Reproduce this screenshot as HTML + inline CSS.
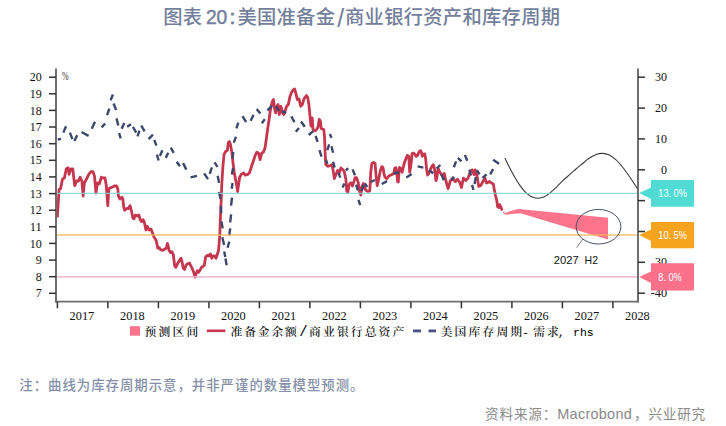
<!DOCTYPE html><html><head><meta charset="utf-8"><title>图表 20</title><style>
html,body{margin:0;padding:0;background:#fff;}
body{width:726px;height:426px;overflow:hidden;position:relative;}
svg{position:absolute;left:0;top:0;display:block;}
.t{font-family:"Liberation Sans","Noto Sans CJK SC",sans-serif;}
</style></head><body>
<svg width="726" height="426" viewBox="0 0 726 426">
<text y="23.7" font-family='"Liberation Sans", "Noto Sans CJK SC", sans-serif' font-size="19.3" font-weight="500" fill="#737f9b" stroke="#737f9b" stroke-width="0"><tspan x="163.20 182.77">图表</tspan><tspan x="205.9" font-size="21" textLength="21.4" lengthAdjust="spacingAndGlyphs" stroke-width="0.5">20</tspan><tspan x="229.4" font-size="21" stroke-width="0.7">:</tspan><tspan x="237.40 256.97 276.54 296.11 315.68">美国准备金</tspan><tspan x="337.2" y="27.2" font-size="25" font-weight="400">/</tspan><tspan x="345.00 364.57 384.14 403.71 423.28 442.85 462.42 481.99 501.56 521.13 540.70" y="23.7">商业银行资产和库存周期</tspan></text>
<polygon points="502.6,211.2 504.5,212.6 506.3,212.8 509.0,211.6 511.9,210.7 515.0,209.7 518.7,209.0 608.0,217.7 608.0,239.4 520.4,213.3 511.9,214.1 506.3,214.8 503.5,213.6" fill="#fc738c"/>
<path d="M504.9,158.0 C505.5,159.2 507.0,162.4 508.5,165.4 C510.0,168.4 512.2,172.7 514.1,176.0 C516.0,179.3 517.8,182.4 519.7,185.1 C521.6,187.8 523.5,190.3 525.4,192.2 C527.3,194.1 528.9,195.4 531.0,196.4 C533.1,197.4 535.9,198.1 538.0,198.2 C540.1,198.3 541.8,197.9 543.7,197.1 C545.6,196.3 547.2,195.2 549.3,193.6 C551.4,192.0 553.9,189.5 556.3,187.3 C558.6,185.1 561.0,182.4 563.4,180.2 C565.8,178.0 568.3,175.8 570.4,173.9 C572.5,172.0 574.1,170.7 576.0,169.0 C577.9,167.3 579.8,165.8 582.0,164.0 C584.2,162.2 586.8,159.9 589.1,158.3 C591.5,156.7 593.9,155.3 596.1,154.5 C598.3,153.7 600.4,153.3 602.5,153.4 C604.6,153.5 606.6,153.8 608.8,154.8 C611.0,155.9 613.4,157.6 615.8,159.7 C618.1,161.8 620.5,164.6 622.9,167.5 C625.2,170.4 627.8,174.2 629.9,177.3 C632.0,180.4 634.3,183.8 635.6,185.8 C636.9,187.9 637.5,189.0 637.9,189.6" fill="none" stroke="#3a3a3a" stroke-width="1.1"/>
<polyline points="57.3,217.5 59.1,189.4 60.6,188.5 62.5,179.0 64.4,178.0 66.3,168.8 68.1,167.8 69.0,174.4 71.0,168.8 72.8,168.8 73.8,178.0 74.7,185.6 76.6,181.0 78.5,181.0 80.1,177.2 81.9,181.0 83.1,196.0 84.4,182.8 87.0,178.0 88.8,174.4 91.0,171.6 93.0,171.6 94.5,176.3 96.0,193.0 97.5,182.8 99.4,183.8 101.3,177.2 103.0,178.0 105.0,178.0 106.3,185.6 107.8,205.6 108.8,188.8 110.6,187.8 112.5,186.9 114.4,186.0 116.6,186.0 117.8,188.8 118.5,196.3 120.0,199.0 121.9,197.2 122.8,199.0 123.8,207.5 124.7,210.3 126.6,208.5 128.5,208.5 130.0,205.6 131.3,210.3 132.8,217.8 134.0,218.8 135.4,215.0 137.3,216.0 138.8,215.0 140.3,219.7 141.6,221.6 143.1,219.7 144.4,222.5 145.9,230.0 147.2,226.3 149.1,230.0 151.0,229.1 152.8,233.8 154.2,237.5 155.7,239.4 156.4,241.3 157.8,248.3 159.2,247.6 160.6,249.7 162.7,250.4 164.9,249.0 166.3,248.3 167.4,243.4 168.4,246.9 169.1,250.4 170.5,252.5 171.9,251.8 173.3,254.6 174.7,265.9 175.8,267.3 177.5,263.8 179.6,260.3 181.0,258.2 182.0,261.7 183.2,268.0 184.6,269.4 186.0,265.2 187.4,263.8 189.5,263.1 190.9,265.9 192.3,268.7 193.7,272.3 195.1,277.2 196.1,273.7 197.3,270.8 198.7,272.3 200.1,270.1 201.5,267.3 202.9,266.6 204.3,265.2 205.7,256.8 207.1,255.4 208.5,256.0 210.4,254.0 211.8,258.2 213.2,256.0 214.9,256.0 216.0,258.2 217.4,254.0 218.4,251.1 219.1,244.1 219.8,234.2 220.5,215.0 221.2,200.0 221.8,184.2 222.8,167.8 224.0,154.6 225.6,151.4 227.3,150.5 228.4,142.3 229.4,141.5 230.5,144.8 231.7,151.4 233.0,162.9 234.3,172.7 235.5,179.3 236.8,185.9 237.6,191.6 238.4,185.9 239.6,177.7 241.2,174.4 243.7,173.0 245.3,175.2 247.8,174.4 249.4,173.0 251.1,167.8 253.0,162.0 255.2,155.5 256.8,152.2 258.5,153.0 260.1,159.6 261.8,153.0 263.4,152.2 265.0,148.0 266.2,139.9 267.5,130.0 269.1,119.4 270.7,107.9 272.4,101.4 273.5,99.4 274.4,107.9 275.7,112.9 276.8,106.3 278.1,104.6 279.3,114.5 280.9,106.3 282.6,112.9 283.7,114.5 285.0,111.2 286.7,106.3 288.3,104.6 290.0,96.4 291.6,92.3 293.3,89.9 294.6,89.0 295.8,93.1 297.4,99.7 299.0,98.9 300.7,106.3 302.3,104.6 304.0,98.9 306.4,95.6 307.7,97.3 308.9,104.6 310.0,116.1 311.0,126.0 312.2,117.8 313.0,129.3 314.6,130.9 316.3,130.1 317.9,127.6 319.2,119.4 320.4,121.1 321.2,128.5 322.9,129.3 323.7,129.3 324.5,135.9 325.3,156.4 325.8,164.6 327.8,166.3 330.3,165.5 331.9,164.6 333.0,169.6 334.4,178.6 336.0,174.5 337.6,170.4 339.3,172.9 340.9,167.9 342.6,169.6 344.2,171.2 345.9,179.4 346.7,190.9 347.8,192.6 349.2,184.4 350.8,182.7 352.4,186.0 354.1,181.1 355.0,177.7 356.6,177.7 358.2,182.4 359.7,191.9 360.8,195.1 361.9,186.7 363.4,183.5 365.0,188.8 366.6,190.9 368.2,191.4 369.8,190.9 370.8,171.9 371.9,163.4 373.5,162.4 375.1,163.4 376.1,176.1 377.2,185.6 378.7,179.3 380.3,170.8 381.9,166.6 383.0,167.7 384.0,174.0 385.1,177.2 386.7,178.7 388.8,176.1 390.9,175.1 393.0,174.0 393.8,173.5 394.7,168.2 395.9,167.6 396.7,171.7 397.6,181.7 398.3,182.0 399.4,167.5 400.8,168.5 402.2,172.2 403.6,165.7 405.0,161.0 406.5,157.2 407.4,155.3 408.8,156.3 409.7,172.2 411.1,163.8 412.1,153.5 413.5,153.0 414.9,154.4 416.3,156.3 417.7,155.3 419.1,151.6 420.5,150.6 421.5,152.5 422.2,156.3 423.4,154.4 424.8,153.9 425.7,159.1 426.6,169.4 427.6,175.0 429.0,173.2 430.4,169.4 431.8,166.6 433.2,164.7 434.2,167.5 435.1,173.2 436.0,180.7 437.0,176.9 438.0,168.5 439.9,172.3 442.3,175.8 444.2,173.4 445.8,180.5 448.1,188.7 450.5,180.5 452.8,178.1 455.2,181.7 457.5,179.3 459.9,182.8 461.5,187.5 463.4,178.1 465.8,180.5 468.1,178.1 470.5,171.1 472.3,169.9 474.0,174.6 475.2,169.9 477.0,175.8 478.7,186.4 481.0,185.2 483.4,180.5 485.0,178.1 486.4,182.8 487.7,182.8 489.2,181.4 491.3,182.8 493.4,184.2 494.1,188.5 495.5,195.5 496.9,201.1 497.6,206.8 499.0,207.5 499.7,204.6 501.1,207.5 501.8,209.6 502.5,210.3" fill="none" stroke="#c5374f" stroke-width="2.8" stroke-linejoin="round"/>
<path d="M57.8,139.5L61.0,138.8 M63.4,132.6L66.0,126.2 M69.9,132.6L72.4,139.1 M74.4,141.0L77.2,135.2 M81.5,132.0L88.6,135.9 M91.8,128.8L95.0,121.7 M101.6,127.4L105.2,123.5 M107.1,115.1L109.3,108.7 M110.6,100.3L112.9,94.5 M113.6,103.5L116.1,110.0 M116.5,118.4L118.3,125.5 M119.1,133.2L120.7,138.4 M121.7,128.7L124.3,122.9 M127.1,126.8L131.0,124.2 M132.9,126.8L136.2,132.6 M137.5,136.4L139.4,130.6 M141.3,125.5L144.6,131.3 M148.6,139.2L153.0,134.7 M154.3,139.9L156.4,145.7 M156.9,154.7L158.6,160.5 M159.9,156.0L162.4,150.2 M165.7,157.9L168.3,152.8 M170.8,147.6L173.7,152.8 M176.7,161.8L179.9,166.3 M183.1,163.1L186.3,169.6 M190.6,177.4L197.0,175.8 M204.1,173.3L208.0,179.1 M209.7,173.9L211.9,167.4 M214.5,162.3L217.5,166.8 M217.7,175.8L219.0,182.9 M219.0,192.0L220.6,199.0 M220.8,206.0L221.2,213.0 M221.4,221.4L222.7,228.4 M222.3,237.2L224.1,245.1 M224.2,251.5L225.3,257.0 M225.5,258.5L226.6,265.3 M227.6,247.8L229.3,241.6 M229.3,235.5L230.2,228.4 M230.2,222.3L231.1,214.3 M231.1,205.6L232.0,197.6 M231.7,188.8L232.6,183.0 M231.9,174.5L233.0,168.1 M232.5,158.5L233.3,152.0 M233.8,142.6L236.0,136.8 M236.4,128.4L238.3,122.6 M242.5,116.1L246.1,122.0 M250.6,120.7L253.6,114.9 M256.7,109.0L260.3,113.6 M261.9,123.3L264.8,119.1 M267.4,110.3L271.9,105.8 M276.0,106.3L279.0,111.0 M282.2,111.1L286.1,113.1 M291.3,116.3L294.5,122.1 M295.8,131.8L299.0,127.9 M301.0,121.5L304.8,126.7 M308.7,135.0L313.2,131.2 M315.6,136.0L317.6,141.8 M319.5,150.2L321.5,156.7 M326.0,159.9L327.3,163.8 M327.3,150.2L329.2,144.4 M329.9,134.0L331.5,137.9 M331.5,146.3L333.1,152.8 M333.1,161.8L334.6,167.6 M338.5,172.9L340.3,177.6 M342.6,187.6L344.4,183.5 M345.9,170.5L348.1,168.2 M352.6,169.4L355.0,175.3 M356.1,184.6L357.9,190.5 M358.5,199.9L360.2,205.2 M361.8,191.0L363.4,185.0 M364.9,183.5L367.3,187.0 M370.8,182.0L375.0,180.0 M381.8,184.0L387.0,181.1 M393.5,173.5L399.4,172.3 M406.4,177.6L411.7,174.1 M417.6,166.4L423.4,167.6 M429.1,170.2L433.2,173.2 M436.7,168.5L440.3,165.0 M441.4,174.3L443.8,180.2 M451.4,180.2L453.8,176.7 M453.8,167.3L456.1,161.4 M457.9,157.9L461.4,161.4 M464.9,155.0L467.3,160.8 M469.4,169.6L471.0,175.5 M472.0,184.9L473.5,190.0 M474.6,184.0L475.8,177.0 M476.7,170.2L479.6,174.3 M482.5,177.9L486.6,174.3 M490.2,174.3L493.1,169.1 M493.1,159.7L499.0,163.8" fill="none" stroke="#3c476c" stroke-width="2.4"/>
<line x1="56.0" y1="193.4" x2="638.0" y2="193.4" stroke="#7fd6d6" stroke-width="1.3" stroke-opacity="0.85"/>
<line x1="56.0" y1="235.0" x2="638.0" y2="235.0" stroke="#efb55f" stroke-width="1.6" stroke-opacity="0.85"/>
<line x1="56.0" y1="276.9" x2="638.0" y2="276.9" stroke="#f2b3c8" stroke-width="1.8" stroke-opacity="0.85"/>
<ellipse cx="598.5" cy="226.7" rx="22.4" ry="17.3" fill="none" stroke="#4b5068" stroke-width="1"/>
<line x1="583" y1="238.8" x2="576.5" y2="247.8" stroke="#777" stroke-width="0.9"/>
<text y="263.8" font-family='"Liberation Sans", "Noto Sans CJK SC", sans-serif' font-size="11.6" fill="#111"><tspan x="553.8" textLength="24.8" lengthAdjust="spacingAndGlyphs">2027</tspan><tspan x="584.6" textLength="13.4" lengthAdjust="spacingAndGlyphs">H2</tspan></text>
<line x1="56.0" y1="68.5" x2="56.0" y2="302.5" stroke="#6e6e6e" stroke-width="2"/>
<line x1="638.0" y1="68.5" x2="638.0" y2="302.5" stroke="#6e6e6e" stroke-width="2"/>
<line x1="55.1" y1="301.7" x2="638.9" y2="301.7" stroke="#6e6e6e" stroke-width="1.7"/>
<line x1="49" y1="293.3" x2="56.0" y2="293.3" stroke="#333" stroke-width="1.5"/>
<text x="41.8" y="297.4" text-anchor="end" font-family='"Liberation Serif", "Noto Serif CJK SC", serif' font-size="13.5" textLength="6.0" lengthAdjust="spacingAndGlyphs" fill="#111">7</text>
<line x1="49" y1="276.7" x2="56.0" y2="276.7" stroke="#333" stroke-width="1.5"/>
<text x="41.8" y="280.8" text-anchor="end" font-family='"Liberation Serif", "Noto Serif CJK SC", serif' font-size="13.5" textLength="6.0" lengthAdjust="spacingAndGlyphs" fill="#111">8</text>
<line x1="49" y1="260.1" x2="56.0" y2="260.1" stroke="#333" stroke-width="1.5"/>
<text x="41.8" y="264.2" text-anchor="end" font-family='"Liberation Serif", "Noto Serif CJK SC", serif' font-size="13.5" textLength="6.0" lengthAdjust="spacingAndGlyphs" fill="#111">9</text>
<line x1="49" y1="243.4" x2="56.0" y2="243.4" stroke="#333" stroke-width="1.5"/>
<text x="41.8" y="247.5" text-anchor="end" font-family='"Liberation Serif", "Noto Serif CJK SC", serif' font-size="13.5" textLength="12.0" lengthAdjust="spacingAndGlyphs" fill="#111">10</text>
<line x1="49" y1="226.8" x2="56.0" y2="226.8" stroke="#333" stroke-width="1.5"/>
<text x="41.8" y="230.9" text-anchor="end" font-family='"Liberation Serif", "Noto Serif CJK SC", serif' font-size="13.5" textLength="12.0" lengthAdjust="spacingAndGlyphs" fill="#111">11</text>
<line x1="49" y1="210.2" x2="56.0" y2="210.2" stroke="#333" stroke-width="1.5"/>
<text x="41.8" y="214.3" text-anchor="end" font-family='"Liberation Serif", "Noto Serif CJK SC", serif' font-size="13.5" textLength="12.0" lengthAdjust="spacingAndGlyphs" fill="#111">12</text>
<line x1="49" y1="193.6" x2="56.0" y2="193.6" stroke="#333" stroke-width="1.5"/>
<text x="41.8" y="197.7" text-anchor="end" font-family='"Liberation Serif", "Noto Serif CJK SC", serif' font-size="13.5" textLength="12.0" lengthAdjust="spacingAndGlyphs" fill="#111">13</text>
<line x1="49" y1="176.9" x2="56.0" y2="176.9" stroke="#333" stroke-width="1.5"/>
<text x="41.8" y="181.0" text-anchor="end" font-family='"Liberation Serif", "Noto Serif CJK SC", serif' font-size="13.5" textLength="12.0" lengthAdjust="spacingAndGlyphs" fill="#111">14</text>
<line x1="49" y1="160.3" x2="56.0" y2="160.3" stroke="#333" stroke-width="1.5"/>
<text x="41.8" y="164.4" text-anchor="end" font-family='"Liberation Serif", "Noto Serif CJK SC", serif' font-size="13.5" textLength="12.0" lengthAdjust="spacingAndGlyphs" fill="#111">15</text>
<line x1="49" y1="143.7" x2="56.0" y2="143.7" stroke="#333" stroke-width="1.5"/>
<text x="41.8" y="147.8" text-anchor="end" font-family='"Liberation Serif", "Noto Serif CJK SC", serif' font-size="13.5" textLength="12.0" lengthAdjust="spacingAndGlyphs" fill="#111">16</text>
<line x1="49" y1="127.0" x2="56.0" y2="127.0" stroke="#333" stroke-width="1.5"/>
<text x="41.8" y="131.1" text-anchor="end" font-family='"Liberation Serif", "Noto Serif CJK SC", serif' font-size="13.5" textLength="12.0" lengthAdjust="spacingAndGlyphs" fill="#111">17</text>
<line x1="49" y1="110.4" x2="56.0" y2="110.4" stroke="#333" stroke-width="1.5"/>
<text x="41.8" y="114.5" text-anchor="end" font-family='"Liberation Serif", "Noto Serif CJK SC", serif' font-size="13.5" textLength="12.0" lengthAdjust="spacingAndGlyphs" fill="#111">18</text>
<line x1="49" y1="93.8" x2="56.0" y2="93.8" stroke="#333" stroke-width="1.5"/>
<text x="41.8" y="97.9" text-anchor="end" font-family='"Liberation Serif", "Noto Serif CJK SC", serif' font-size="13.5" textLength="12.0" lengthAdjust="spacingAndGlyphs" fill="#111">19</text>
<line x1="49" y1="77.2" x2="56.0" y2="77.2" stroke="#333" stroke-width="1.5"/>
<text x="41.8" y="81.2" text-anchor="end" font-family='"Liberation Serif", "Noto Serif CJK SC", serif' font-size="13.5" textLength="12.0" lengthAdjust="spacingAndGlyphs" fill="#111">20</text>
<text x="62" y="80.2" font-family='"Liberation Serif", "Noto Serif CJK SC", serif' font-size="12.5" textLength="6.6" lengthAdjust="spacingAndGlyphs" fill="#333">%</text>
<line x1="638.0" y1="293.2" x2="645" y2="293.2" stroke="#333" stroke-width="1.5"/>
<text x="667.1" y="297.3" text-anchor="end" font-family='"Liberation Serif", "Noto Serif CJK SC", serif' font-size="13.5" textLength="16.3" lengthAdjust="spacingAndGlyphs" fill="#111">-40</text>
<line x1="638.0" y1="262.3" x2="645" y2="262.3" stroke="#333" stroke-width="1.5"/>
<text x="667.1" y="266.4" text-anchor="end" font-family='"Liberation Serif", "Noto Serif CJK SC", serif' font-size="13.5" textLength="12.0" lengthAdjust="spacingAndGlyphs" fill="#111">30</text>
<line x1="638.0" y1="231.5" x2="645" y2="231.5" stroke="#333" stroke-width="1.5"/>
<text x="667.1" y="235.6" text-anchor="end" font-family='"Liberation Serif", "Noto Serif CJK SC", serif' font-size="13.5" textLength="16.3" lengthAdjust="spacingAndGlyphs" fill="#111">-20</text>
<line x1="638.0" y1="200.6" x2="645" y2="200.6" stroke="#333" stroke-width="1.5"/>
<text x="667.1" y="204.7" text-anchor="end" font-family='"Liberation Serif", "Noto Serif CJK SC", serif' font-size="13.5" textLength="16.3" lengthAdjust="spacingAndGlyphs" fill="#111">-10</text>
<line x1="638.0" y1="169.8" x2="645" y2="169.8" stroke="#333" stroke-width="1.5"/>
<text x="667.1" y="173.9" text-anchor="end" font-family='"Liberation Serif", "Noto Serif CJK SC", serif' font-size="13.5" textLength="6.0" lengthAdjust="spacingAndGlyphs" fill="#111">0</text>
<line x1="638.0" y1="138.9" x2="645" y2="138.9" stroke="#333" stroke-width="1.5"/>
<text x="667.1" y="143.0" text-anchor="end" font-family='"Liberation Serif", "Noto Serif CJK SC", serif' font-size="13.5" textLength="12.0" lengthAdjust="spacingAndGlyphs" fill="#111">10</text>
<line x1="638.0" y1="108.1" x2="645" y2="108.1" stroke="#333" stroke-width="1.5"/>
<text x="667.1" y="112.2" text-anchor="end" font-family='"Liberation Serif", "Noto Serif CJK SC", serif' font-size="13.5" textLength="12.0" lengthAdjust="spacingAndGlyphs" fill="#111">20</text>
<line x1="638.0" y1="77.2" x2="645" y2="77.2" stroke="#333" stroke-width="1.5"/>
<text x="667.1" y="81.3" text-anchor="end" font-family='"Liberation Serif", "Noto Serif CJK SC", serif' font-size="13.5" textLength="12.0" lengthAdjust="spacingAndGlyphs" fill="#111">30</text>
<line x1="57.4" y1="301.7" x2="57.4" y2="308.3" stroke="#333" stroke-width="1.5"/>
<text x="81.9" y="320.0" text-anchor="middle" font-family='"Liberation Serif", "Noto Serif CJK SC", serif' font-size="13.5" textLength="24.6" lengthAdjust="spacingAndGlyphs" fill="#111">2017</text>
<line x1="107.9" y1="301.7" x2="107.9" y2="308.3" stroke="#333" stroke-width="1.5"/>
<text x="132.4" y="320.0" text-anchor="middle" font-family='"Liberation Serif", "Noto Serif CJK SC", serif' font-size="13.5" textLength="24.6" lengthAdjust="spacingAndGlyphs" fill="#111">2018</text>
<line x1="158.4" y1="301.7" x2="158.4" y2="308.3" stroke="#333" stroke-width="1.5"/>
<text x="182.9" y="320.0" text-anchor="middle" font-family='"Liberation Serif", "Noto Serif CJK SC", serif' font-size="13.5" textLength="24.6" lengthAdjust="spacingAndGlyphs" fill="#111">2019</text>
<line x1="208.9" y1="301.7" x2="208.9" y2="308.3" stroke="#333" stroke-width="1.5"/>
<text x="233.4" y="320.0" text-anchor="middle" font-family='"Liberation Serif", "Noto Serif CJK SC", serif' font-size="13.5" textLength="24.6" lengthAdjust="spacingAndGlyphs" fill="#111">2020</text>
<line x1="259.4" y1="301.7" x2="259.4" y2="308.3" stroke="#333" stroke-width="1.5"/>
<text x="283.9" y="320.0" text-anchor="middle" font-family='"Liberation Serif", "Noto Serif CJK SC", serif' font-size="13.5" textLength="24.6" lengthAdjust="spacingAndGlyphs" fill="#111">2021</text>
<line x1="309.9" y1="301.7" x2="309.9" y2="308.3" stroke="#333" stroke-width="1.5"/>
<text x="334.4" y="320.0" text-anchor="middle" font-family='"Liberation Serif", "Noto Serif CJK SC", serif' font-size="13.5" textLength="24.6" lengthAdjust="spacingAndGlyphs" fill="#111">2022</text>
<line x1="360.4" y1="301.7" x2="360.4" y2="308.3" stroke="#333" stroke-width="1.5"/>
<text x="384.9" y="320.0" text-anchor="middle" font-family='"Liberation Serif", "Noto Serif CJK SC", serif' font-size="13.5" textLength="24.6" lengthAdjust="spacingAndGlyphs" fill="#111">2023</text>
<line x1="410.9" y1="301.7" x2="410.9" y2="308.3" stroke="#333" stroke-width="1.5"/>
<text x="435.4" y="320.0" text-anchor="middle" font-family='"Liberation Serif", "Noto Serif CJK SC", serif' font-size="13.5" textLength="24.6" lengthAdjust="spacingAndGlyphs" fill="#111">2024</text>
<line x1="461.4" y1="301.7" x2="461.4" y2="308.3" stroke="#333" stroke-width="1.5"/>
<text x="485.9" y="320.0" text-anchor="middle" font-family='"Liberation Serif", "Noto Serif CJK SC", serif' font-size="13.5" textLength="24.6" lengthAdjust="spacingAndGlyphs" fill="#111">2025</text>
<line x1="511.9" y1="301.7" x2="511.9" y2="308.3" stroke="#333" stroke-width="1.5"/>
<text x="536.4" y="320.0" text-anchor="middle" font-family='"Liberation Serif", "Noto Serif CJK SC", serif' font-size="13.5" textLength="24.6" lengthAdjust="spacingAndGlyphs" fill="#111">2026</text>
<line x1="562.4" y1="301.7" x2="562.4" y2="308.3" stroke="#333" stroke-width="1.5"/>
<text x="586.9" y="320.0" text-anchor="middle" font-family='"Liberation Serif", "Noto Serif CJK SC", serif' font-size="13.5" textLength="24.6" lengthAdjust="spacingAndGlyphs" fill="#111">2027</text>
<line x1="612.9" y1="301.7" x2="612.9" y2="308.3" stroke="#333" stroke-width="1.5"/>
<text x="637.4" y="320.0" text-anchor="middle" font-family='"Liberation Serif", "Noto Serif CJK SC", serif' font-size="13.5" textLength="24.6" lengthAdjust="spacingAndGlyphs" fill="#111">2028</text>
<path d="M639.2,193.0 L651,187.5 L651,180.0 L694,180.0 L694,206.8 L651,206.8 L651,199.0 Z" fill="#50dcd5"/>
<text x="658.3" y="197.3" font-family='"Liberation Sans", "Noto Sans CJK SC", sans-serif' font-size="10.6" textLength="28.6" lengthAdjust="spacingAndGlyphs" fill="#fff">13. 0%</text>
<path d="M639.2,235.0 L651,229.5 L651,221.9 L694,221.9 L694,248.3 L651,248.3 L651,241.0 Z" fill="#f6a41e"/>
<text x="658.3" y="239.0" font-family='"Liberation Sans", "Noto Sans CJK SC", sans-serif' font-size="10.6" textLength="28.6" lengthAdjust="spacingAndGlyphs" fill="#fff">10. 5%</text>
<path d="M639.2,277.0 L651,271.5 L651,263.2 L694,263.2 L694,290.4 L651,290.4 L651,283.0 Z" fill="#fb718a"/>
<text x="658.3" y="280.7" font-family='"Liberation Sans", "Noto Sans CJK SC", sans-serif' font-size="10.6" textLength="23.4" lengthAdjust="spacingAndGlyphs" fill="#fff">8. 0%</text>
<rect x="130" y="326.2" width="10" height="9.5" fill="#fc738c"/>
<text y="335.6" font-family='"Liberation Mono", "Noto Serif CJK SC", serif' font-size="11.8" font-weight="500" fill="#000"><tspan x="144.40 158.43 172.46 186.49">预测区间</tspan><tspan x="230.60 244.20 257.80 271.40 285.00">准备金余额</tspan><tspan x="299.2" font-size="14" font-weight="400">/</tspan><tspan x="309.10 323.00 336.90 350.80 364.70 378.60 392.50">商业银行总资产</tspan><tspan x="440.60 454.55 468.50 482.45 496.40 510.35">美国库存周期</tspan><tspan x="522.0" font-weight="400">-</tspan><tspan x="533.20 547.00">需求</tspan><tspan x="557.8" font-weight="400">,</tspan><tspan x="573.0" font-size="11.5" font-weight="400">rhs</tspan></text>
<line x1="206.8" y1="330.8" x2="225.4" y2="330.8" stroke="#c5374f" stroke-width="2.6"/>
<line x1="413" y1="330.9" x2="421" y2="330.9" stroke="#4a5080" stroke-width="2.8"/>
<line x1="428.5" y1="330.9" x2="436" y2="330.9" stroke="#4a5080" stroke-width="2.8"/>
<text x="19.30 33.68 48.06 62.44 76.82 91.20 105.58 119.96 134.34 148.72 163.10 177.48 191.86 206.24 220.62 235.00 249.38 263.76 278.14 292.52 306.90 321.28 335.66 350.04" y="389.7" font-family='"Liberation Sans", "Noto Sans CJK SC", sans-serif' font-size="13.4" font-weight="500" fill="#8590a8">注：曲线为库存周期示意，并非严谨的数量模型预测。</text>
<text y="418.7" font-family='"Liberation Sans", "Noto Sans CJK SC", sans-serif' font-size="13.6" fill="#8a8a8a"><tspan x="485.10 499.50 513.90 528.30 542.70">资料来源：</tspan><tspan x="557.3" font-size="14.5" textLength="74.5" lengthAdjust="spacing">Macrobond</tspan><tspan x="634.00 648.40 662.80 677.20 691.60">，兴业研究</tspan></text>
</svg></body></html>
